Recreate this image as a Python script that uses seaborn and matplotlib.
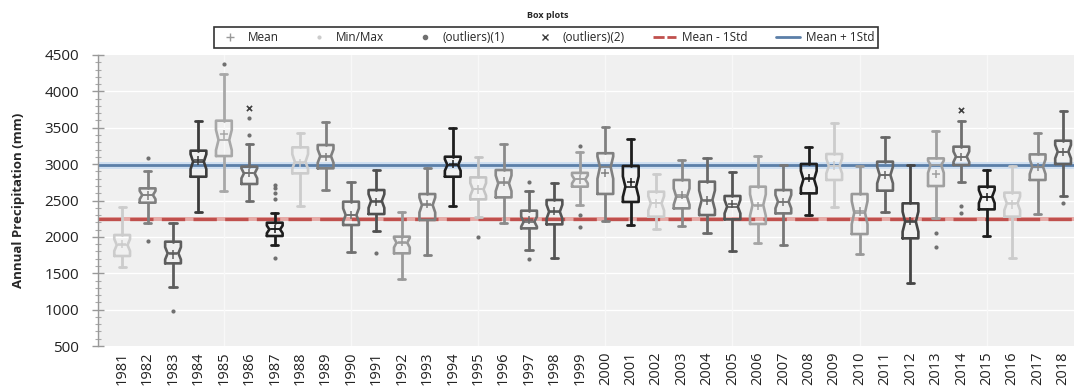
import numpy as np
import pandas as pd
import matplotlib
matplotlib.use("Agg")
import matplotlib.pyplot as plt
from matplotlib.lines import Line2D
import seaborn as sns

years = list(range(1981, 2019))
whislo = [1580, 2186, 1306, 2346, 2635, 2493, 1888, 2429, 2644, 1796, 2085, 1416, 1751, 2424, 2278, 2186, 1819, 1705, 2438,
          2220, 2170, 2103, 2149, 2058, 1810, 1911, 1888, 2300, 2406, 1764, 2346, 1361, 2255, 2759, 2012, 1705, 2314, 2562]
q1 = [1737, 2470, 1636, 2827, 3111, 2727, 2012, 2873, 2942, 2163, 2314, 1774, 2232, 2827, 2516, 2543, 2117, 2172, 2690,
      2590, 2480, 2278, 2392, 2300, 2241, 2177, 2323, 2598, 2782, 2039, 2635, 1980, 2699, 2988, 2378, 2278, 2782, 3002]
med = [1888, 2575, 1774, 3034, 3331, 2873, 2103, 3034, 3111, 2300, 2493, 1920, 2438, 2988, 2653, 2736, 2209, 2346, 2790,
       2960, 2690, 2461, 2553, 2507, 2415, 2438, 2484, 2791, 2974, 2333, 2850, 2209, 2988, 3102, 2553, 2461, 2965, 3171]
q3 = [2026, 2667, 1934, 3185, 3597, 2965, 2195, 3231, 3263, 2484, 2644, 2003, 2589, 3102, 2818, 2919, 2360, 2507, 2880,
      3150, 2974, 2621, 2782, 2759, 2562, 2690, 2644, 3002, 3139, 2589, 3034, 2461, 3079, 3240, 2690, 2608, 3134, 3322]
whishi = [2415, 2905, 2186, 3597, 4234, 3276, 2323, 3432, 3574, 2759, 2919, 2346, 2942, 3492, 3102, 3272, 2635, 2736, 3170,
          3510, 3341, 2864, 3056, 3079, 2896, 3111, 2988, 3240, 3570, 2974, 3368, 2988, 3460, 3597, 2919, 2974, 3432, 3735]
means = [1900, 2570, 1760, 3050, 3409, 2880, 2110, 3020, 3100, 2300, 2480, 1930, 2450, 3000, 2653, 2759, 2230, 2360, 2790,
         2880, 2750, 2461, 2575, 2500, 2450, 2420, 2480, 2810, 2980, 2350, 2850, 2220, 2864, 3100, 2550, 2447, 2960, 3170]
outliers1 = {1982: [3079, 1948], 1983: [985], 1985: [4376], 1986: [3629, 3400],
             1987: [2713, 2667, 2607, 2516, 1705], 1991: [1774], 1995: [2003], 1997: [2759, 1691],
             1999: [3250, 2300, 2140], 2013: [2058, 1856], 2014: [2424, 2328], 2018: [2461]}
outliers2 = {1986: [3767], 2014: [3744]}
box_colors = ["#cccccc", "#808080", "#5e5e5e", "#3c3c3c", "#a8a8a8", "#6e6e6e", "#1e1e1e",
              "#cccccc", "#808080", "#707070", "#505050", "#9a9a9a", "#808080", "#1e1e1e",
              "#c4c4c4", "#8a8a8a", "#6a6a6a", "#555555", "#a0a0a0", "#808080", "#1e1e1e",
              "#cccccc", "#8a8a8a", "#6a6a6a", "#555555", "#a5a5a5", "#777777", "#1e1e1e",
              "#cccccc", "#999999", "#666666", "#454545", "#a0a0a0", "#707070", "#1e1e1e",
              "#cccccc", "#8a8a8a", "#606060"]
mean_minus_std = 2240
mean_plus_std = 2990

sns.set_theme(style="whitegrid")
plt.rcParams["font.family"] = ["Open Sans", "DejaVu Sans"]

fig = plt.figure(figsize=(10.74, 3.90), dpi=100)
ax = fig.add_axes([98 / 1074, 1 - 346 / 390, 1 - 98 / 1074, (346 - 55) / 390])
ax.set_facecolor("#f0f0f0")

pos = np.arange(len(years))
ax.set_xlim(-0.95, len(years) - 0.57)
ax.set_ylim(500, 4500)

# background grid
ax.grid(False)
for yv in range(1000, 4500, 500):
    ax.axhline(yv, color="white", lw=1.0, zorder=0)
for xv in [4, 9, 14, 19, 24, 29, 34]:
    ax.axvline(xv, color="#f8f8f8", lw=1.0, zorder=0)

# reference lines
ax.axhline(mean_plus_std, color="#d0e0f2", lw=5, zorder=1)
ax.axhline(mean_plus_std, color="#5b7fa8", lw=2.0, zorder=1.5)
ax.axhline(mean_minus_std, color="#e6aaa6", lw=2.8, zorder=1)
ax.axhline(mean_minus_std, color="#c0504d", lw=2.4, ls=(0, (7, 2.5)), zorder=1.5)

# boxes
W = 0.62
depth = 0.68  # fraction of the box width kept at the notch waist
for i, y in enumerate(years):
    iqr = q3[i] - q1[i]
    half = 1.57 * iqr / np.sqrt(30)
    st = dict(med=med[i], q1=q1[i], q3=q3[i], whislo=whislo[i], whishi=whishi[i],
              mean=means[i], fliers=[], label=str(y),
              cilo=max(med[i] - half, q1[i] + 0.08 * iqr), cihi=min(med[i] + half, q3[i] - 0.08 * iqr))
    c = box_colors[i]
    art = ax.bxp([st], positions=[pos[i]], widths=W, shownotches=True, showmeans=False,
                 showfliers=False, patch_artist=False, capwidths=0.28,
                 boxprops=dict(color=c, lw=1.9), whiskerprops=dict(color=c, lw=2.0),
                 capprops=dict(color=c, lw=2.0), medianprops=dict(color=c, lw=1.2),
                 manage_ticks=False, zorder=3)
    for b in art["boxes"]:
        xd = np.asarray(b.get_xdata(), dtype=float)
        yd = np.asarray(b.get_ydata(), dtype=float)
        waist = np.isclose(yd, med[i])
        xd[waist] = pos[i] + np.sign(xd[waist] - pos[i]) * depth * W / 2
        b.set_xdata(xd)
    for m in art["medians"]:
        m.set_xdata([pos[i] - depth * W / 2, pos[i] + depth * W / 2])

# means via seaborn
df_mean = pd.DataFrame({"x": pos, "mean": means, "year": [str(y) for y in years]})
sns.scatterplot(data=df_mean, x="x", y="mean", hue="year", palette=box_colors, marker="+",
                s=36, linewidth=1.1, legend=False, ax=ax, zorder=4)

# outliers via seaborn
o1x, o1y, o2x, o2y = [], [], [], []
for y, vals in outliers1.items():
    for v in vals:
        o1x.append(years.index(y)); o1y.append(v)
for y, vals in outliers2.items():
    for v in vals:
        o2x.append(years.index(y)); o2y.append(v)
sns.scatterplot(x=o1x, y=o1y, color="#707070", marker="o", s=9, linewidth=0, ax=ax, zorder=4)
sns.scatterplot(x=o2x, y=o2y, color="#404040", marker="x", s=14, linewidth=1.2, ax=ax, zorder=4)

# axes styling
ax.set_xticks(pos)
ax.set_xticklabels([str(y) for y in years], rotation=90, fontsize=10.5, color="#222222")
ax.set_yticks(range(500, 4501, 500))
ax.set_yticklabels([str(v) for v in range(500, 4501, 500)], fontsize=11, color="#222222")
ax.set_yticks(range(500, 4501, 100), minor=True)
ax.tick_params(axis="y", which="major", direction="inout", length=9, width=1, color="#999999", left=True, pad=9)
ax.tick_params(axis="y", which="minor", direction="inout", length=4, width=0.8, color="#aaaaaa", left=True)
ax.tick_params(axis="x", which="both", length=0, pad=4)
for s in ["top", "right", "bottom"]:
    ax.spines[s].set_visible(False)
ax.spines["left"].set_color("#999999")
ax.spines["left"].set_linewidth(1)
ax.set_xlabel("")
ax.set_ylabel("Annual Precipitation (mm)", fontsize=9.5, fontweight="bold", labelpad=14)

# legend and title
handles = [
    Line2D([], [], ls="none", marker="+", color="#999999", markersize=6),
    Line2D([], [], ls="none", marker="o", color="#cccccc", markersize=2),
    Line2D([], [], ls="none", marker="o", color="#707070", markersize=3),
    Line2D([], [], ls="none", marker="x", color="#404040", markersize=4),
    Line2D([], [], color="#c0504d", lw=2, ls=(0, (4, 1))),
    Line2D([], [], color="#5b7fa8", lw=2),
]
labels = ["Mean", "Min/Max", "(outliers)(1)", "(outliers)(2)", "Mean - 1Std", "Mean + 1Std"]
leg = fig.legend(handles, labels, loc="center", bbox_to_anchor=(546 / 1074, 1 - 37.5 / 390), ncol=6,
                 fontsize=8.5, frameon=True, fancybox=False, edgecolor="#333333", framealpha=1,
                 handlelength=2.0, handletextpad=0.5, columnspacing=2.4, borderpad=0.3)
leg.get_frame().set_linewidth(1.2)
fig.text(548 / 1074, 1 - 15 / 390, "Box plots", ha="center", va="center", fontsize=6.5, fontweight="bold")

fig.savefig("out.png", dpi=100)
